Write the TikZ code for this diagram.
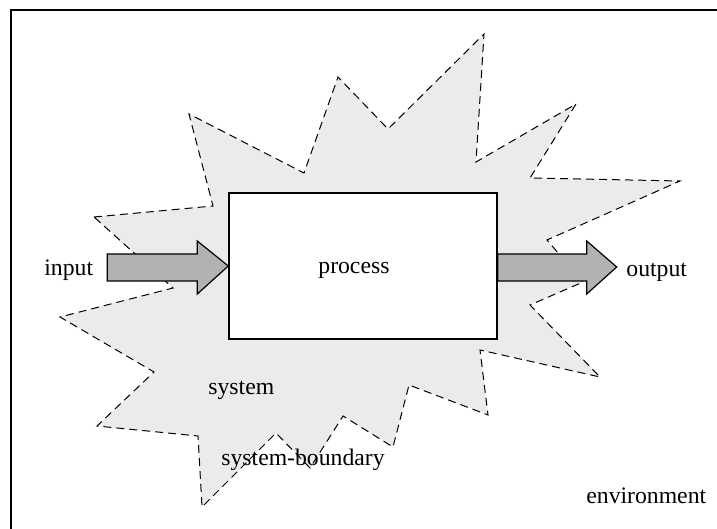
\documentclass[tikz,border=0pt]{standalone}
\usepackage{fontspec}
\setmainfont{Liberation Serif}
\definecolor{sysgray}{RGB}{235,235,235}
\definecolor{arrowgray}{RGB}{178,178,178}
\begin{document}
\begin{tikzpicture}[x=0.5pt,y=-0.5pt,
  boundary/.style={draw=black, line width=0.5pt, dash pattern=on 4pt off 2.5pt, fill=sysgray},
  procbox/.style={draw=black, line width=0.7pt, fill=white, minimum width=134pt, minimum height=73pt, inner sep=0pt},
  blockarrow/.style={draw=black, line width=0.6pt, fill=arrowgray, line join=miter},
  lbl/.style={anchor=base west, inner sep=0pt, font=\fontsize{11.85}{14}\selectfont},
  frame/.style={draw=black, line width=0.75pt}]
  \useasboundingbox (0,0) rectangle (717,529);
  \clip (0,0) rectangle (717,529);

  % surrounding environment frame
  \draw[frame] (11,10) rectangle (760,570);

  % jagged system boundary
  \draw[boundary] (94,217) -- (213,206) -- (189,114) -- (304,173) -- (338,77)
    -- (388,129) -- (484,34) -- (476,162) -- (576,104) -- (530,178) -- (680,181)
    -- (547,240) -- (583,282) -- (530,305) -- (600,377) -- (480,350) -- (488,415)
    -- (409,385) -- (393,447) -- (343,416) -- (310,468) -- (276,433) -- (202,507)
    -- (198,436) -- (97,426) -- (154,372) -- (60,317) -- (173,288) -- cycle;

  % process block
  \node[procbox] (proc) at (363,266) {};
  \node[lbl] (proctext) at (318,273) {process};

  % input arrow, tip on the block
  \draw[blockarrow] (proc.west) -- ++(-31,-25) -- ++(0,13) -- ++(-90,0)
    -- ++(0,27) -- ++(90,0) -- ++(0,13) -- cycle;
  % output arrow, tail on the block
  \draw[blockarrow] (proc.east) ++(0,-12) -- ++(89,0) -- ++(0,-13) -- ++(30,26)
    -- ++(-30,27) -- ++(0,-13) -- ++(-89,0) -- cycle;

  % labels
  \node[lbl] (in) at (44,276) {input};
  \node[lbl] (out) at (626,277) {output};
  \node[lbl] (sys) at (208,394) {system};
  \node[lbl] (bnd) at (221,465) {system-boundary};
  \node[lbl] (env) at (586,503) {environment};
\end{tikzpicture}
\end{document}
